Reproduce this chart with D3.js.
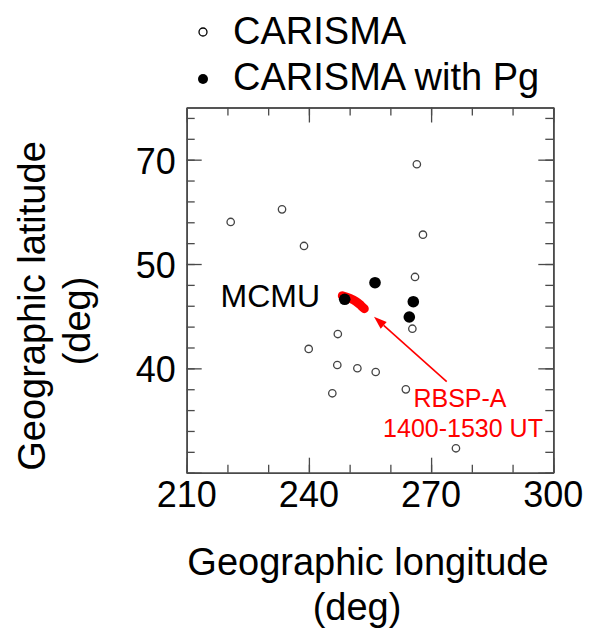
<!DOCTYPE html>
<html><head><meta charset="utf-8">
<script src="https://cdn.jsdelivr.net/npm/d3@7"></script>
<style>
html,body{margin:0;padding:0;background:#fff;}
svg{display:block;font-family:"Liberation Sans",Arial,Helvetica,sans-serif;}
</style></head>
<body>
<script>
// ---- data ----
const carismaLon = [266.5, 233.4, 220.8, 268.0, 238.8, 266.05, 265.4, 247.1, 239.95, 246.97, 251.9, 256.4, 245.75, 263.8, 276.1];
const carismaLat = [59.56, 55.24, 54.03, 52.81, 51.73, 48.76, 43.8, 43.29, 41.86, 40.32, 40.01, 39.65, 37.61, 37.99, 32.34];
const pgLon = [256.23, 265.63, 264.65, 248.79];
const pgLat = [48.21, 46.39, 44.92, 46.62];
const rbspLon = [248.2, 250.09, 251.56, 252.79, 253.6];
const rbspLat = [46.95, 46.70, 46.41, 46.02, 45.72];
const arrowLon = [273.83, 255.98];
const arrowLat = [38.72, 44.95];
const xTickValues = [210, 240, 270, 300];
const xTickLabels = ["210", "240", "270", "300"];
const yTickValues = [40, 50, 60];
const yTickLabels = ["40", "50", "70"];
const legendLabels = ["CARISMA", "CARISMA with Pg"];
const stationLabel = "MCMU";
const rbspLabels = ["RBSP-A", "1400-1530 UT"];

// ---- layout ----
const W = 589, H = 631;
const L = 186.7, R = 553.3, T = 107.5, B = 472.7;
const x = d3.scaleLinear().domain([210, 300]).range([L, R]);
const y = d3.scaleLinear().domain([30, 65]).range([B, T]);

const svg = d3.select("body").append("svg").attr("width", W).attr("height", H);
svg.append("rect").attr("width", W).attr("height", H).attr("fill", "#fff");

const frameColor = "#4a4a4a";
const g = svg.append("g");

const xMinor = d3.range(210, 301, 10);
const yMinor = d3.range(30, 65.1, 2);
function drawAxis(axis, transform) {
  const a = g.append("g").attr("transform", transform).call(axis);
  a.selectAll("text").remove();
  a.select(".domain").attr("stroke", frameColor).attr("stroke-width", 1.6);
  a.selectAll(".tick line").attr("stroke", frameColor).attr("stroke-width", 1.3);
  return a;
}
drawAxis(d3.axisBottom(x).tickValues(xMinor).tickSizeInner(-8).tickSizeOuter(0), `translate(0,${B})`);
drawAxis(d3.axisTop(x).tickValues(xMinor).tickSizeInner(-8).tickSizeOuter(0), `translate(0,${T})`);
drawAxis(d3.axisLeft(y).tickValues(yMinor).tickSizeInner(-8).tickSizeOuter(0), `translate(${L},0)`);
drawAxis(d3.axisRight(y).tickValues(yMinor).tickSizeInner(-8).tickSizeOuter(0), `translate(${R},0)`);
drawAxis(d3.axisBottom(x).tickValues(xTickValues).tickSizeInner(-15).tickSizeOuter(0), `translate(0,${B})`);
drawAxis(d3.axisTop(x).tickValues(xTickValues).tickSizeInner(-15).tickSizeOuter(0), `translate(0,${T})`);
drawAxis(d3.axisLeft(y).tickValues(yTickValues.concat([30])).tickSizeInner(-15).tickSizeOuter(0), `translate(${L},0)`);
drawAxis(d3.axisRight(y).tickValues(yTickValues.concat([30])).tickSizeInner(-15).tickSizeOuter(0), `translate(${R},0)`);

// tick labels
svg.append("g").selectAll("text").data(xTickValues).join("text")
  .attr("x", d => x(d)).attr("y", B + 34)
  .attr("text-anchor", "middle").attr("font-size", 36).attr("fill", "#000")
  .text((d, i) => xTickLabels[i]);
svg.append("g").selectAll("text").data(yTickValues).join("text")
  .attr("x", L - 11).attr("y", d => y(d) + 14)
  .attr("text-anchor", "end").attr("font-size", 36).attr("fill", "#000")
  .text((d, i) => yTickLabels[i]);

// axis titles
svg.append("text").attr("transform", "translate(45,306) rotate(-90)")
  .attr("text-anchor", "middle").attr("font-size", 38).text("Geographic latitude");
svg.append("text").attr("transform", "translate(90,321) rotate(-90)")
  .attr("text-anchor", "middle").attr("font-size", 38).text("(deg)");
svg.append("text").attr("x", 368).attr("y", 575)
  .attr("text-anchor", "middle").attr("font-size", 38).text("Geographic longitude");
svg.append("text").attr("x", 357).attr("y", 620)
  .attr("text-anchor", "middle").attr("font-size", 38).text("(deg)");

// legend
svg.append("circle").attr("cx", 203).attr("cy", 32).attr("r", 4)
  .attr("fill", "#fff").attr("stroke", "#000").attr("stroke-width", 1.3);
svg.append("text").attr("x", 233).attr("y", 43.5).attr("font-size", 38).text(legendLabels[0]);
svg.append("circle").attr("cx", 203).attr("cy", 79).attr("r", 5).attr("fill", "#000");
svg.append("text").attr("x", 233).attr("y", 90).attr("font-size", 38).text(legendLabels[1]);

// open circles
svg.append("g").selectAll("circle").data(carismaLon).join("circle")
  .attr("cx", d => x(d)).attr("cy", (d, i) => y(carismaLat[i])).attr("r", 3.7)
  .attr("fill", "#fff").attr("stroke", "#444").attr("stroke-width", 1.3);

// RBSP track
const line = d3.line().x(d => x(d[0])).y(d => y(d[1])).curve(d3.curveCatmullRom);
svg.append("path").datum(rbspLon.map((d, i) => [d, rbspLat[i]]))
  .attr("d", line).attr("fill", "none").attr("stroke", "#ff0000")
  .attr("stroke-width", 9).attr("stroke-linecap", "round");

// filled circles
svg.append("g").selectAll("circle").data(pgLon).join("circle")
  .attr("cx", d => x(d)).attr("cy", (d, i) => y(pgLat[i])).attr("r", 5.8)
  .attr("fill", "#000");

// MCMU label
svg.append("text").attr("x", 320).attr("y", 306.5).attr("text-anchor", "end")
  .attr("font-size", 32).text(stationLabel);

// arrow
const ax0 = x(arrowLon[0]), ay0 = y(arrowLat[0]), ax1 = x(arrowLon[1]), ay1 = y(arrowLat[1]);
const ang = Math.atan2(ay1 - ay0, ax1 - ax0);
const hl = 13, hw = 4.5;
const bx = ax1 - hl * Math.cos(ang), by = ay1 - hl * Math.sin(ang);
svg.append("line").attr("x1", ax0).attr("y1", ay0).attr("x2", bx).attr("y2", by)
  .attr("stroke", "#ff0000").attr("stroke-width", 1.6);
svg.append("path")
  .attr("d", `M${ax1},${ay1}L${bx + hw * Math.sin(ang)},${by - hw * Math.cos(ang)}L${bx - hw * Math.sin(ang)},${by + hw * Math.cos(ang)}Z`)
  .attr("fill", "#ff0000");

// RBSP labels
svg.append("text").attr("x", 460).attr("y", 407).attr("text-anchor", "middle")
  .attr("font-size", 25).attr("fill", "#ff0000").text(rbspLabels[0]);
svg.append("text").attr("x", 463).attr("y", 437).attr("text-anchor", "middle")
  .attr("font-size", 25).attr("fill", "#ff0000").text(rbspLabels[1]);
</script>
</body></html>
